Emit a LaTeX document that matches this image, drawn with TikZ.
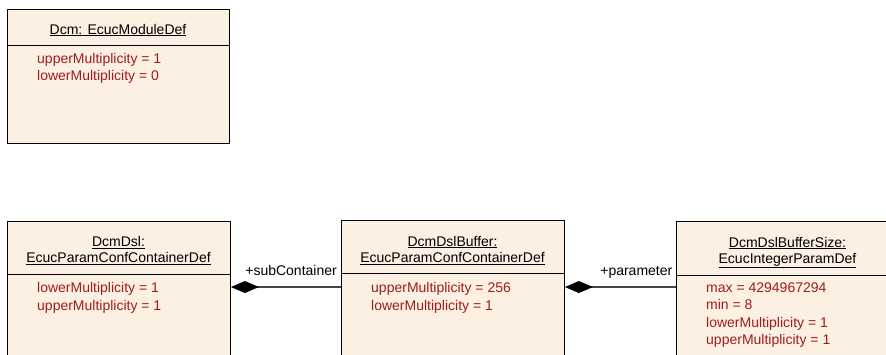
\documentclass[tikz,border=0pt]{standalone}
\usepackage{fontspec}
\setmainfont{Liberation Sans}
\usetikzlibrary{arrows.meta,positioning,calc}
\definecolor{classfill}{RGB}{251,240,225}
\definecolor{attrred}{RGB}{160,28,32}
\definecolor{edgegray}{RGB}{70,70,70}
\tikzset{
  classbox/.style={draw=black,line width=0.9pt,fill=classfill,minimum width=222pt,inner sep=0pt,anchor=north west},
  title/.style={font=\fontsize{14}{16.2}\selectfont,align=center,inner sep=0pt,anchor=base},
  attrs/.style={font=\fontsize{14}{17.2}\selectfont,text=attrred,align=left,inner sep=0pt,anchor=base west},
  divider/.style={draw=black,line width=0.9pt},
  comp/.style={{Diamond[length=28pt,width=12pt,color=black]}-,draw=edgegray,line width=1.2pt},
  role/.style={font=\fontsize{14}{16}\selectfont,inner sep=0pt,anchor=base east}
}
\begin{document}
\begin{tikzpicture}[x=1pt,y=-1pt]
  \path[use as bounding box,clip] (0,0) rectangle (886,354);

  % module definition (base = last line)
  \node[classbox,minimum height=134pt] (mod) at (7,9) {};
  \draw[divider] ($(mod.north west)+(0,36)$) -- ($(mod.north east)+(0,36)$);
  \node[title] (modtitle) at (118,34) {\underline{Dcm: EcucModuleDef}};
  \node[attrs] (modattr) at (37,80.5) {upperMultiplicity = 1\\lowerMultiplicity = 0};

  % containers
  \node[classbox,minimum height=160pt,minimum width=223pt] (dsl) at (7,221) {};
  \draw[divider] ($(dsl.north west)+(0,53)$) -- ($(dsl.north east)+(0,53)$);
  \node[title] (dsltitle) at (118.5,262.7) {\underline{DcmDsl:}\\\underline{EcucParamConfContainerDef}};
  \node[attrs] (dslattr) at (37,310) {lowerMultiplicity = 1\\upperMultiplicity = 1};

  \node[classbox,minimum height=160pt,minimum width=223pt] (buf) at (341,220) {};
  \draw[divider] ($(buf.north west)+(0,53)$) -- ($(buf.north east)+(0,53)$);
  \node[title] (buftitle) at (452.5,262.3) {\underline{DcmDslBuffer:}\\\underline{EcucParamConfContainerDef}};
  \node[attrs] (bufattr) at (371,310) {upperMultiplicity = 256\\lowerMultiplicity = 1};

  % parameter
  \node[classbox,minimum height=160pt,minimum width=223pt] (size) at (676,221) {};
  \draw[divider] ($(size.north west)+(0,54.5)$) -- ($(size.north east)+(0,54.5)$);
  \node[title] (sizetitle) at (787.5,263.3) {\underline{DcmDslBufferSize:}\\\underline{EcucIntegerParamDef}};
  \node[attrs] (sizeattr) at (706,344.3) {max = 4294967294\\min = 8\\lowerMultiplicity = 1\\upperMultiplicity = 1};

  % compositions
  \draw[comp] (dsl.east |- 0,287) -- (buf.west |- 0,287);
  \node[role] (subrole) at ([xshift=-4pt]buf.west |- 0,275) {+subContainer};
  \draw[comp] (buf.east |- 0,287) -- (size.west |- 0,287);
  \node[role] (parrole) at ([xshift=-3.5pt]size.west |- 0,275) {+parameter};
\end{tikzpicture}
\end{document}
